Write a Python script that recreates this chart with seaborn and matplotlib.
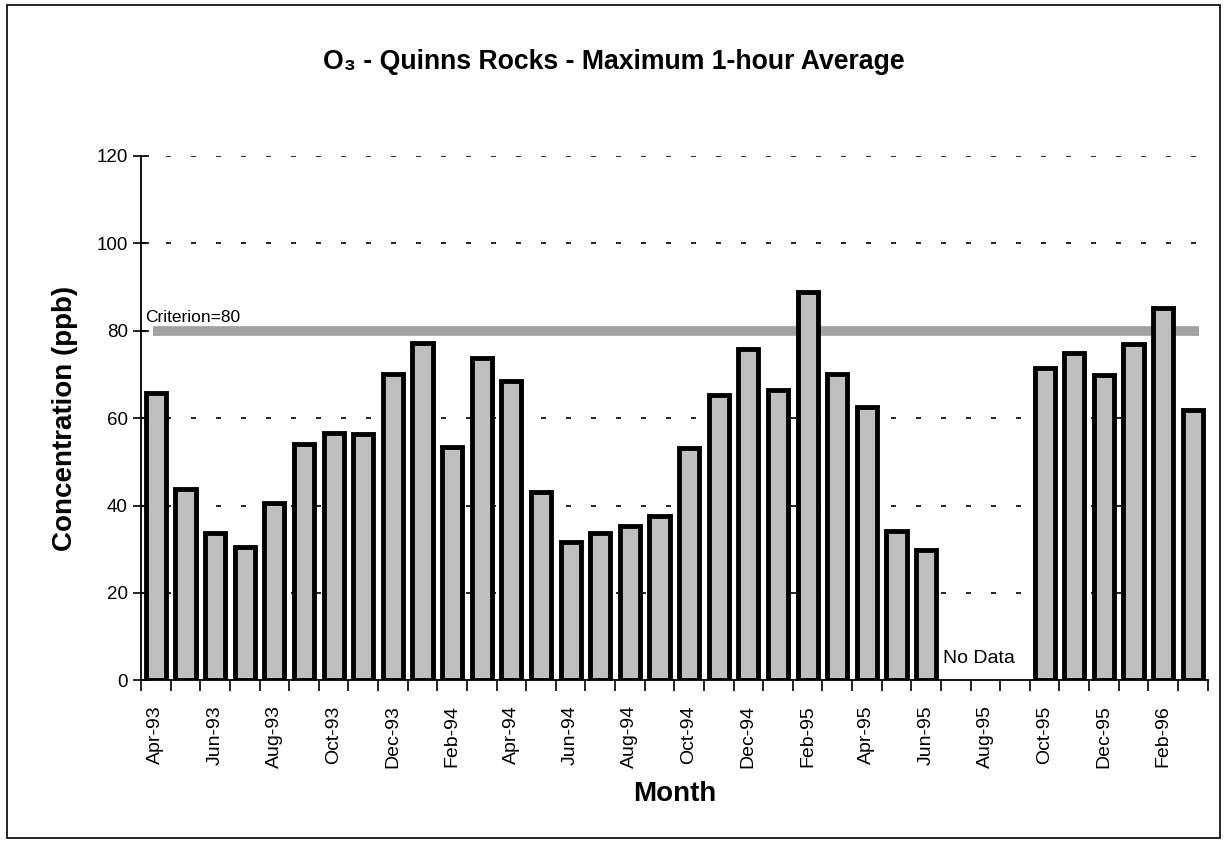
import numpy as np
import pandas as pd
import matplotlib
matplotlib.use("Agg")
import matplotlib.pyplot as plt
import seaborn as sns
from matplotlib.patches import Rectangle
from matplotlib.ticker import FixedLocator

# Data (ppb); NaN = no data
months = ["Apr-93", "May-93", "Jun-93", "Jul-93", "Aug-93", "Sep-93", "Oct-93", "Nov-93",
          "Dec-93", "Jan-94", "Feb-94", "Mar-94", "Apr-94", "May-94", "Jun-94", "Jul-94",
          "Aug-94", "Sep-94", "Oct-94", "Nov-94", "Dec-94", "Jan-95", "Feb-95", "Mar-95",
          "Apr-95", "May-95", "Jun-95", "Jul-95", "Aug-95", "Sep-95", "Oct-95", "Nov-95",
          "Dec-95", "Jan-96", "Feb-96", "Mar-96"]
ozone = [65.7, 43.7, 33.6, 30.4, 40.5, 54.0, 56.5, 56.4,
         70.0, 77.3, 53.5, 73.7, 68.6, 43.0, 31.7, 33.7,
         35.3, 37.6, 53.2, 65.3, 75.8, 66.4, 88.8, 70.1,
         62.6, 34.1, 29.9, np.nan, np.nan, np.nan, 71.5, 74.9,
         69.8, 76.9, 85.3, 61.9]
criterion = 80
yticks = [0, 20, 40, 60, 80, 100, 120]

df = pd.DataFrame({"Month": months, "Concentration": ozone})

sns.set_style("white")
plt.rcParams["font.family"] = ["Liberation Sans", "DejaVu Sans"]
plt.rcParams["text.color"] = "black"
plt.rcParams["axes.labelcolor"] = "black"
plt.rcParams["xtick.color"] = "black"
plt.rcParams["ytick.color"] = "black"

fig = plt.figure(figsize=(12.26, 8.43), dpi=100)
ax = fig.add_axes([0.115, 0.193, 0.870, 0.622])

# gridlines behind everything
for v in yticks[1:]:
    ax.axhline(v, color="black", lw=1.2, ls=(0, (3, 12)), zorder=0)

# criterion line (behind the bars)
ax.plot([-0.1, 35.2], [criterion, criterion], color="#a2a2a2", lw=7,
        solid_capstyle="butt", zorder=1)
ax.text(-0.36, criterion + 1.2, "Criterion=80", fontsize=12.5, ha="left", va="bottom", zorder=3)

sns.barplot(data=df, x="Month", y="Concentration", order=months, color="#bfbfbf",
            saturation=1, width=0.68, edgecolor="black", linewidth=3.5, ax=ax, zorder=2)

ax.text(27.77, 3, "No Data", fontsize=14, ha="center", va="bottom")

ax.set_xlim(-0.5, len(months) - 0.5)
ax.set_ylim(0, 120)
ax.set_yticks(yticks)
ax.set_xticks(range(0, len(months), 2))
ax.set_xticklabels(months[::2], rotation=90, fontsize=14)
ax.xaxis.set_minor_locator(FixedLocator(np.arange(-0.5, len(months), 1)))
ax.tick_params(axis="x", which="major", bottom=True, length=0, pad=18)
ax.tick_params(axis="x", which="minor", bottom=True, length=8, width=1.2, direction="out")
ax.tick_params(axis="y", left=True, length=12, width=1.2, direction="inout", labelsize=13.5)

for s in ["top", "right"]:
    ax.spines[s].set_visible(False)
for s in ["left", "bottom"]:
    ax.spines[s].set_color("black")
    ax.spines[s].set_linewidth(1.3)

ax.set_xlabel("Month", fontsize=20, fontweight="bold", labelpad=9)
ax.set_ylabel("Concentration (ppb)", fontsize=20, fontweight="bold", labelpad=13)

fig.text(0.501, 0.926, "O\u2083 - Quinns Rocks - Maximum 1-hour Average", fontsize=19.2,
         fontweight="bold", ha="center", va="center")

# outer border of the chart
fig.patches.append(Rectangle((0.006, 0.006), 0.989, 0.988, transform=fig.transFigure,
                             fill=False, edgecolor="black", lw=1.2))

fig.savefig("out.png", dpi=100)
